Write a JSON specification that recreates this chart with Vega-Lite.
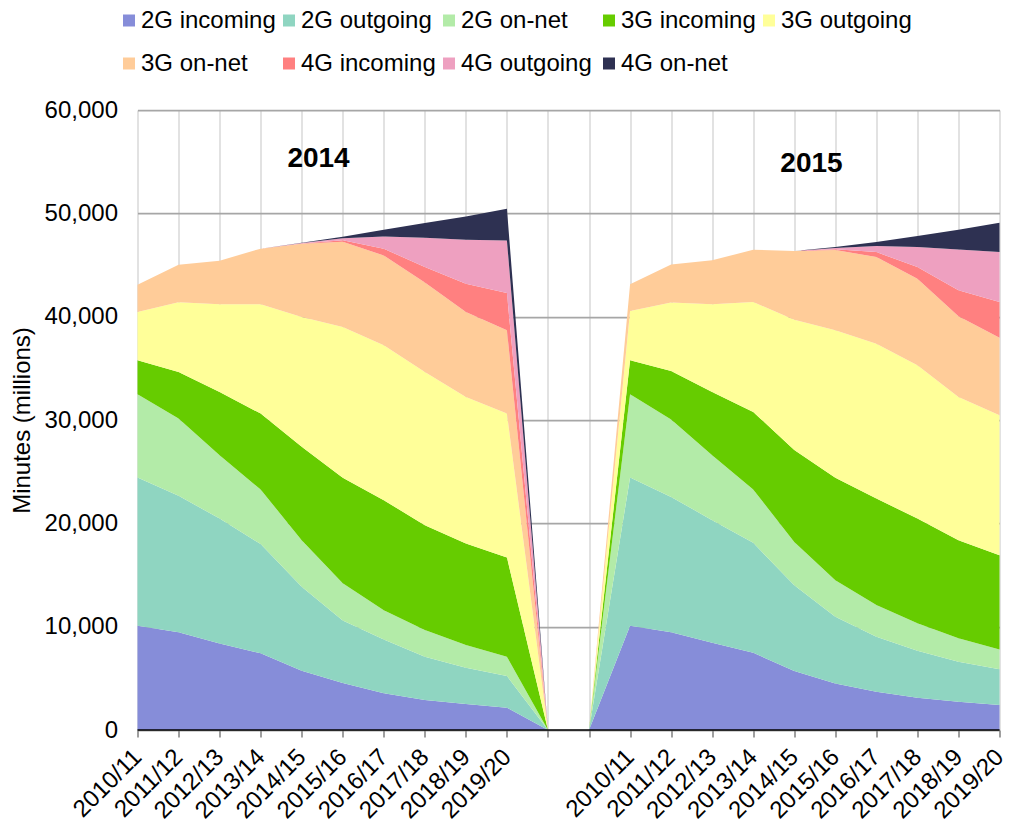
{
  "$schema": "https://vega.github.io/schema/vega-lite/v6.json",
  "width": 862,
  "height": 620,
  "autosize": {"type": "none"},
  "padding": {"left": 137.5, "top": 110, "right": 11.5, "bottom": 100},
  "background": "white",
  "config": {"font": "Liberation Sans", "view": {"stroke": null}},
  "datasets": {
    "minutes": [
      {"i": 0, "forecast": "2014", "period": "2010/11", "2G incoming": 10090, "2G outgoing": 14350, "2G on-net": 8050, "3G incoming": 3290, "3G outgoing": 4670, "3G on-net": 2650, "4G incoming": 0, "4G outgoing": 0, "4G on-net": 0},
      {"i": 1, "forecast": "2014", "period": "2011/12", "2G incoming": 9450, "2G outgoing": 13210, "2G on-net": 7480, "3G incoming": 4510, "3G outgoing": 6740, "3G on-net": 3640, "4G incoming": 0, "4G outgoing": 0, "4G on-net": 0},
      {"i": 2, "forecast": "2014", "period": "2012/13", "2G incoming": 8380, "2G outgoing": 12090, "2G on-net": 6120, "3G incoming": 6120, "3G outgoing": 8480, "3G on-net": 4230, "4G incoming": 0, "4G outgoing": 0, "4G on-net": 0},
      {"i": 3, "forecast": "2014", "period": "2013/14", "2G incoming": 7420, "2G outgoing": 10570, "2G on-net": 5280, "3G incoming": 7350, "3G outgoing": 10570, "3G on-net": 5390, "4G incoming": 0, "4G outgoing": 0, "4G on-net": 0},
      {"i": 4, "forecast": "2014", "period": "2014/15", "2G incoming": 5740, "2G outgoing": 8120, "2G on-net": 4510, "3G incoming": 9030, "3G outgoing": 12570, "3G on-net": 7090, "4G incoming": 20, "4G outgoing": 40, "4G on-net": 30},
      {"i": 5, "forecast": "2014", "period": "2015/16", "2G incoming": 4540, "2G outgoing": 6060, "2G on-net": 3600, "3G incoming": 10200, "3G outgoing": 14600, "3G on-net": 8250, "4G incoming": 150, "4G outgoing": 200, "4G on-net": 140},
      {"i": 6, "forecast": "2014", "period": "2016/17", "2G incoming": 3550, "2G outgoing": 5220, "2G on-net": 2830, "3G incoming": 10640, "3G outgoing": 14990, "3G on-net": 8700, "4G incoming": 650, "4G outgoing": 1190, "4G on-net": 650},
      {"i": 7, "forecast": "2014", "period": "2017/18", "2G incoming": 2900, "2G outgoing": 4190, "2G on-net": 2580, "3G incoming": 10150, "3G outgoing": 14830, "3G on-net": 8650, "4G incoming": 1500, "4G outgoing": 2840, "4G on-net": 1420},
      {"i": 8, "forecast": "2014", "period": "2018/19", "2G incoming": 2510, "2G outgoing": 3520, "2G on-net": 2190, "3G incoming": 9830, "3G outgoing": 14180, "3G on-net": 8220, "4G incoming": 2740, "4G outgoing": 4260, "4G on-net": 2250},
      {"i": 9, "forecast": "2014", "period": "2019/20", "2G incoming": 2160, "2G outgoing": 3060, "2G on-net": 1870, "3G incoming": 9610, "3G outgoing": 13920, "3G on-net": 8060, "4G incoming": 3610, "4G outgoing": 5090, "4G on-net": 3060},
      {"i": 10, "forecast": "", "period": "", "2G incoming": 0, "2G outgoing": 0, "2G on-net": 0, "3G incoming": 0, "3G outgoing": 0, "3G on-net": 0, "4G incoming": 0, "4G outgoing": 0, "4G on-net": 0},
      {"i": 11, "forecast": "", "period": "", "2G incoming": 0, "2G outgoing": 0, "2G on-net": 0, "3G incoming": 0, "3G outgoing": 0, "3G on-net": 0, "4G incoming": 0, "4G outgoing": 0, "4G on-net": 0},
      {"i": 12, "forecast": "2015", "period": "2010/11", "2G incoming": 10090, "2G outgoing": 14350, "2G on-net": 8050, "3G incoming": 3290, "3G outgoing": 4770, "3G on-net": 2580, "4G incoming": 0, "4G outgoing": 0, "4G on-net": 0},
      {"i": 13, "forecast": "2015", "period": "2011/12", "2G incoming": 9450, "2G outgoing": 13110, "2G on-net": 7480, "3G incoming": 4710, "3G outgoing": 6610, "3G on-net": 3700, "4G incoming": 0, "4G outgoing": 0, "4G on-net": 0},
      {"i": 14, "forecast": "2015", "period": "2012/13", "2G incoming": 8440, "2G outgoing": 11870, "2G on-net": 6280, "3G incoming": 6120, "3G outgoing": 8480, "3G on-net": 4260, "4G incoming": 0, "4G outgoing": 0, "4G on-net": 0},
      {"i": 15, "forecast": "2015", "period": "2013/14", "2G incoming": 7480, "2G outgoing": 10630, "2G on-net": 5160, "3G incoming": 7510, "3G outgoing": 10640, "3G on-net": 5060, "4G incoming": 0, "4G outgoing": 0, "4G on-net": 0},
      {"i": 16, "forecast": "2015", "period": "2014/15", "2G incoming": 5700, "2G outgoing": 8320, "2G on-net": 4180, "3G incoming": 8900, "3G outgoing": 12600, "3G on-net": 6650, "4G incoming": 0, "4G outgoing": 0, "4G on-net": 0},
      {"i": 17, "forecast": "2015", "period": "2015/16", "2G incoming": 4510, "2G outgoing": 6450, "2G on-net": 3540, "3G incoming": 9900, "3G outgoing": 14280, "3G on-net": 7770, "4G incoming": 70, "4G outgoing": 120, "4G on-net": 100},
      {"i": 18, "forecast": "2015", "period": "2016/17", "2G incoming": 3700, "2G outgoing": 5320, "2G on-net": 3070, "3G incoming": 10310, "3G outgoing": 14990, "3G on-net": 8380, "4G incoming": 480, "4G outgoing": 580, "4G on-net": 390},
      {"i": 19, "forecast": "2015", "period": "2017/18", "2G incoming": 3120, "2G outgoing": 4550, "2G on-net": 2650, "3G incoming": 10150, "3G outgoing": 14830, "3G on-net": 8380, "4G incoming": 1120, "4G outgoing": 1940, "4G on-net": 1060},
      {"i": 20, "forecast": "2015", "period": "2018/19", "2G incoming": 2740, "2G outgoing": 3860, "2G on-net": 2270, "3G incoming": 9500, "3G outgoing": 13860, "3G on-net": 7800, "4G incoming": 2520, "4G outgoing": 3960, "4G on-net": 1910},
      {"i": 21, "forecast": "2015", "period": "2019/20", "2G incoming": 2420, "2G outgoing": 3450, "2G on-net": 1930, "3G incoming": 9120, "3G outgoing": 13540, "3G on-net": 7510, "4G incoming": 3450, "4G outgoing": 4830, "4G on-net": 2840}
    ],
    "seriesOrder": [
      {"series": "2G incoming", "ord": 1},
      {"series": "2G outgoing", "ord": 2},
      {"series": "2G on-net", "ord": 3},
      {"series": "3G incoming", "ord": 4},
      {"series": "3G outgoing", "ord": 5},
      {"series": "3G on-net", "ord": 6},
      {"series": "4G incoming", "ord": 7},
      {"series": "4G outgoing", "ord": 8},
      {"series": "4G on-net", "ord": 9}
    ],
    "annotations": [
      {"i": 4.41, "minutes": 55280, "text": "2014"},
      {"i": 16.42, "minutes": 54730, "text": "2015"}
    ],
    "baseline": [{"minutes": 0}]
  },
  "layer": [
    {
      "data": {"name": "minutes"},
      "transform": [
        {"fold": ["2G incoming", "2G outgoing", "2G on-net", "3G incoming", "3G outgoing", "3G on-net", "4G incoming", "4G outgoing", "4G on-net"], "as": ["series", "minutes"]},
        {"lookup": "series", "from": {"data": {"name": "seriesOrder"}, "key": "series", "fields": ["ord"]}}
      ],
      "mark": {"type": "area", "interpolate": "linear"},
      "encoding": {
        "x": {
          "field": "i",
          "type": "quantitative",
          "scale": {"domain": [0, 21], "nice": false, "zero": false},
          "axis": {
            "title": null,
            "values": [0, 1, 2, 3, 4, 5, 6, 7, 8, 9, 10, 11, 12, 13, 14, 15, 16, 17, 18, 19, 20, 21],
            "labelExpr": "(['2010/11','2011/12','2012/13','2013/14','2014/15','2015/16','2016/17','2017/18','2018/19','2019/20','','','2010/11','2011/12','2012/13','2013/14','2014/15','2015/16','2016/17','2017/18','2018/19','2019/20'])[datum.value]",
            "labelAngle": -45,
            "labelAlign": "right",
            "labelBaseline": "middle",
            "labelFontSize": 24,
            "labelColor": "black",
            "labelPadding": 16,
            "labelOverlap": false,
            "labelBound": false,
            "labelFlush": false,
            "domain": false,
            "ticks": true,
            "tickSize": 7,
            "tickColor": "#7f7f7f",
            "tickWidth": 1.5,
            "grid": true,
            "gridColor": "#d9d9d9",
            "gridWidth": 1.5
          }
        },
        "y": {
          "field": "minutes",
          "type": "quantitative",
          "stack": "zero",
          "scale": {"domain": [0, 60000], "nice": false},
          "axis": {
            "title": "Minutes (millions)",
            "titleFontSize": 24,
            "titleFontWeight": "normal",
            "titleColor": "black",
            "titlePadding": 10,
            "values": [0, 10000, 20000, 30000, 40000, 50000, 60000],
            "format": ",.0f",
            "labelFontSize": 24,
            "labelColor": "black",
            "labelPadding": 20,
            "ticks": false,
            "domain": false,
            "grid": true,
            "gridColor": "#a6a6a6",
            "gridWidth": 1.75
          }
        },
        "color": {
          "field": "series",
          "type": "nominal",
          "scale": {
            "domain": ["2G incoming", "2G outgoing", "2G on-net", "3G incoming", "3G outgoing", "3G on-net", "4G incoming", "4G outgoing", "4G on-net"],
            "range": ["#868dd9", "#8fd5c1", "#b3eba8", "#66cc00", "#ffff99", "#ffcc99", "#ff8080", "#eea0c0", "#2e3152"]
          },
          "legend": {
            "title": null,
            "orient": "none",
            "legendX": -20.5,
            "legendY": -101.5,
            "direction": "horizontal",
            "columns": 5,
            "gridAlign": "all",
            "columnPadding": 1,
            "rowPadding": 19,
            "padding": 0,
            "symbolType": "square",
            "symbolSize": 144,
            "symbolStrokeWidth": 0,
            "symbolOpacity": 1,
            "labelFontSize": 24,
            "labelColor": "black",
            "labelOffset": 0,
            "labelLimit": 300
          }
        },
        "order": {"field": "ord", "type": "quantitative", "sort": "ascending"}
      }
    },
    {
      "data": {"name": "baseline"},
      "mark": {"type": "rule", "color": "black", "strokeWidth": 1.5},
      "encoding": {"y": {"field": "minutes", "type": "quantitative"}}
    },
    {
      "data": {"name": "annotations"},
      "mark": {"type": "text", "fontSize": 28, "fontWeight": "bold", "align": "center", "baseline": "middle", "color": "black"},
      "encoding": {
        "x": {"field": "i", "type": "quantitative"},
        "y": {"field": "minutes", "type": "quantitative"},
        "text": {"field": "text"}
      }
    }
  ]
}
